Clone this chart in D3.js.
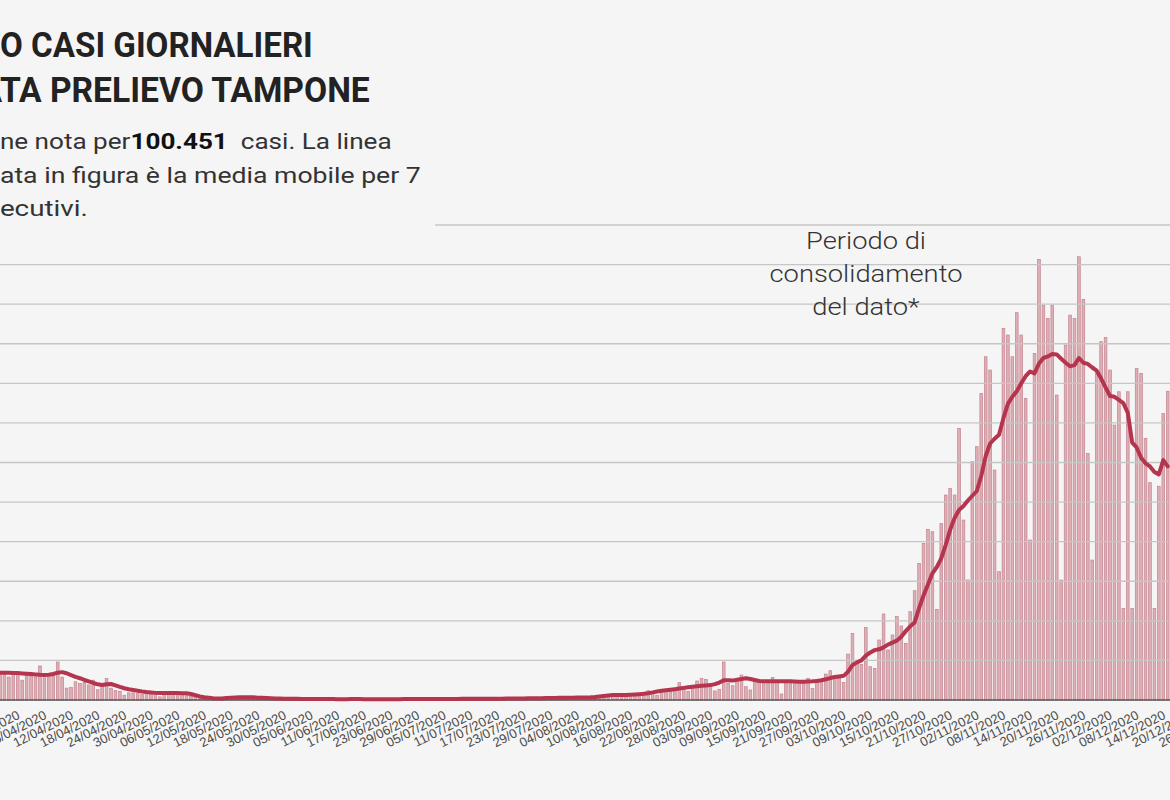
<!DOCTYPE html>
<html><head><meta charset="utf-8">
<script src="https://cdn.jsdelivr.net/npm/d3@7"></script>
<style>
html,body{margin:0;padding:0;background:#f5f5f5;overflow:hidden;}
svg{display:block;}
</style></head><body>
<svg id="chart" width="1170" height="800"></svg>
<script>
const startDate = "2020-03-28";
const dailyCases = [
320,350,290,360,330,250,310,300,290,430,280,290,300,480,290,
150,160,230,210,220,190,250,130,180,270,150,120,110,60,90,
90,80,70,95,80,100,40,85,90,80,95,70,90,50,45,
30,25,20,15,20,25,35,40,30,45,40,30,25,35,30,20,25,20,15,18,12,15,
12,14,10,15,13,8,12,11,13,10,9,12,14,10,11,9,8,12,10,11,9,13,12,10,11,14,12,13,10,15,14,12,13,16,15,11,14,17,15,13,16,18,15,14,
16,18,20,15,19,22,20,18,24,22,19,25,27,23,26,
25,20,30,32,35,33,34,25,45,55,60,65,70,62,45,
45,70,75,80,90,118,85,60,100,110,105,120,219,150,110,160,240,274,260,170,114,135,
480,210,181,261,316,168,126,244,240,240,240,286,240,76,232,232,232,232,210,274,147,261,253,328,370,295,303,220,
581,842,463,450,914,421,400,758,1086,632,821,1053,935,716,1116,1381,1726,1979,2156,2126,1145,2231,2589,2673,2589,3431,2273,1516,3010,3200,
3873,4336,4168,2905,1621,4694,4610,4336,4892,4610,3810,2021,4378,5566,4989,4820,4989,3852,1516,4484,4862,4820,5599,5060,3115,1768,4126,4526,4580,4168,
3473,3894,1158,3894,1158,4189,4126,3305,2745,1158,2700,3620,3900
];
const movingAverage = [
345,345,344,342,340,336,332,327,322,318,316,318,328,345,352,
338,315,292,275,255,235,215,198,190,198,202,185,165,148,135,
126,118,108,100,95,90,88,88,88,88,88,86,84,76,60,
45,35,28,22,18,20,25,30,33,35,36,36,34,30,27,24,22,20,18,17,16,15,
15,14,14,13,13,12,12,12,12,11,11,11,12,12,12,11,11,10,10,10,10,11,11,11,12,12,12,12,13,13,13,13,13,14,14,14,14,15,15,15,15,16,16,16,
16,17,17,18,18,19,20,20,21,22,22,23,24,25,26,
27,28,29,30,31,32,33,34,38,44,50,56,62,63,63,
63,66,70,74,78,86,96,108,116,123,130,137,145,153,161,168,174,180,184,188,200,220,
248,250,245,255,266,274,266,252,240,238,236,236,236,236,236,236,235,232,232,234,236,240,250,262,277,290,298,305,
357,440,475,500,560,600,630,640,665,700,725,750,800,870,930,980,1160,1320,1460,1600,1680,1790,1960,2150,2300,2400,2450,2520,2580,2640,
2830,3080,3240,3300,3350,3560,3740,3830,3900,4000,4090,4150,4125,4250,4320,4340,4370,4365,4310,4260,4215,4230,4320,4260,4245,4200,4160,4060,3950,3840,
3830,3790,3750,3630,3250,3190,3060,2990,2950,2880,2850,3030,2950
];
const tickLabels = ["31/03/2020","06/04/2020","12/04/2020","18/04/2020","24/04/2020","30/04/2020",
"06/05/2020","12/05/2020","18/05/2020","24/05/2020","30/05/2020","05/06/2020","11/06/2020",
"17/06/2020","23/06/2020","29/06/2020","05/07/2020","11/07/2020","17/07/2020","23/07/2020",
"29/07/2020","04/08/2020","10/08/2020","16/08/2020","22/08/2020","28/08/2020","03/09/2020",
"09/09/2020","15/09/2020","21/09/2020","27/09/2020","03/10/2020","09/10/2020","15/10/2020",
"21/10/2020","27/10/2020","02/11/2020","08/11/2020","14/11/2020","20/11/2020","26/11/2020",
"02/12/2020","08/12/2020","14/12/2020","20/12/2020","26/12/2020"];
const gridValues = [500,1000,1500,2000,2500,3000,3500,4000,4500,5000,5500,6000];
const titleLines = ["ANDAMENTO CASI GIORNALIERI", "PER DATA PRELIEVO TAMPONE"];
const subtitleParts = ["Informazione nota per", "100.451", "  casi. La linea"];
const subtitleLines = ["rappresentata in figura è la media mobile per 7", "giorni consecutivi."];
const noteLines = ["Periodo di", "consolidamento", "del dato*"];

const svg = d3.select("#chart");
const parse = d3.utcParse("%Y-%m-%d");
const parseTick = d3.utcParse("%d/%m/%Y");
const t0 = parse(startDate);
const dayPx = 4.44;
const x = d3.scaleUtc().domain([t0, d3.utcDay.offset(t0, 253)]).range([0, 253 * dayPx]);
const y = d3.scaleLinear().domain([0, 6000]).range([700, 225]);

const bars = dailyCases.map((v, i) => ({date: d3.utcDay.offset(t0, i), v}));
const avg = movingAverage.map((v, i) => ({date: d3.utcDay.offset(t0, i), v}));

// bars
const bw = 2.7;
svg.append("g").selectAll("rect").data(bars).join("rect")
  .attr("x", d => x(d.date) - bw / 2)
  .attr("y", d => y(d.v))
  .attr("width", bw)
  .attr("height", d => y(0) - y(d.v))
  .attr("fill", "#dfaeb5")
  .attr("stroke", "#c3848f")
  .attr("stroke-width", 0.7);

// gridlines (over bars)
svg.append("g").selectAll("line").data(gridValues).join("line")
  .attr("x1", d => d === 6000 ? 435 : 0)
  .attr("x2", 1170)
  .attr("y1", d => y(d)).attr("y2", d => y(d))
  .attr("stroke", "#c6c6c6")
  .attr("stroke-width", 1.3);

// baseline
svg.append("line").attr("x1", 0).attr("x2", 1170)
  .attr("y1", y(0)).attr("y2", y(0))
  .attr("stroke", "#555").attr("stroke-width", 1.5);

// moving average line
svg.append("path").datum(avg)
  .attr("fill", "none")
  .attr("stroke", "#b5344e")
  .attr("stroke-width", 4)
  .attr("stroke-linejoin", "round")
  .attr("stroke-linecap", "round")
  .attr("d", d3.line().x(d => x(d.date)).y(d => y(d.v)));

// x axis
const xAxis = d3.axisBottom(x)
  .tickValues(tickLabels.map(parseTick))
  .tickFormat(d3.utcFormat("%d/%m/%Y"))
  .tickSize(0);
const gx = svg.append("g").attr("transform", `translate(0,${y(0)})`).call(xAxis);
gx.select(".domain").remove();
gx.selectAll("text")
  .attr("x", 0).attr("y", 0).attr("dy", 0)
  .attr("text-anchor", "end")
  .attr("transform", "translate(7,18) rotate(-27)")
  .attr("fill", "#4a4a4a")
  .style("font-family", "'Liberation Sans', Arial, sans-serif")
  .style("font-size", "13px");

// helper: fit a text line so visible portion spans [0, rightX]
function fitText(sel, hiddenChars, rightX, baseY) {
  const node = sel.node();
  const total = node.getComputedTextLength();
  const hidden = hiddenChars > 0 ? node.getSubStringLength(0, hiddenChars) : 0;
  const s = rightX / (total - hidden);
  sel.attr("transform", `translate(${-hidden * s},${baseY}) scale(${s},1)`);
}

// title
const titleCfg = [[8, 313, 57], [6, 370, 102]];
titleLines.forEach((t, k) => {
  const el = svg.append("text").text(t)
    .attr("x", 0).attr("y", 0)
    .attr("fill", "#222")
    .style("font-family", "Roboto, sans-serif")
    .style("font-weight", 700)
    .style("font-size", "35px");
  fitText(el, titleCfg[k][0], titleCfg[k][1], titleCfg[k][2]);
});

// subtitle
const st = svg.append("text").attr("x", 0).attr("y", 0)
  .attr("fill", "#333")
  .style("white-space", "pre")
  .style("font-family", "Roboto, sans-serif")
  .style("font-size", "22px");
st.append("tspan").text(subtitleParts[0]);
st.append("tspan").text(subtitleParts[1]).style("font-weight", 700).attr("fill", "#111");
st.append("tspan").text(subtitleParts[2]);
fitText(st, 10, 392, 149);

const subCfg = [[10, 421, 183], [11, 88, 216]];
subtitleLines.forEach((t, k) => {
  const el = svg.append("text").text(t)
    .attr("x", 0).attr("y", 0)
    .attr("fill", "#333")
    .style("font-family", "Roboto, sans-serif")
    .style("font-size", "22px");
  fitText(el, subCfg[k][0], subCfg[k][1], subCfg[k][2]);
});

// annotation
const noteY = [249, 282, 315];
const noteEls = noteLines.map((t, k) => svg.append("text").text(t)
  .attr("x", 0).attr("y", 0)
  .attr("text-anchor", "middle")
  .attr("fill", "#333")
  .style("font-family", "Roboto, sans-serif")
  .style("font-weight", 300)
  .style("font-size", "24px"));
const noteScale = 193 / noteEls[1].node().getComputedTextLength();
noteEls.forEach((el, k) => el.attr("transform", `translate(866,${noteY[k]}) scale(${noteScale},1)`));
</script>
</body></html>
